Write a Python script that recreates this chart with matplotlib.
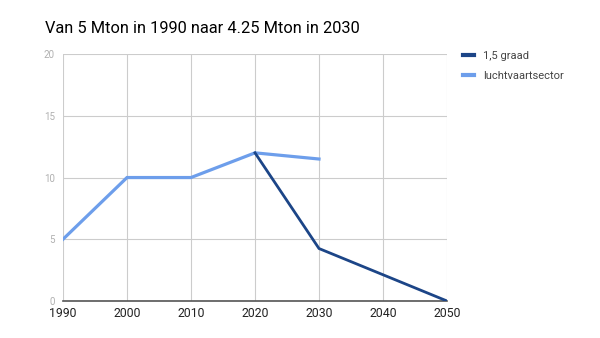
import matplotlib.pyplot as plt

plt.rcParams['font.family'] = ['Roboto', 'DejaVu Sans']

years = [1990, 2000, 2010, 2020, 2030, 2040, 2050]
graad_years = [2020, 2030, 2040, 2050]
graad_vals = [12, 4.25, 2.125, 0]
lucht_years = [1990, 2000, 2010, 2020, 2030]
lucht_vals = [5, 10, 10, 12, 11.5]
yticks = [0, 5, 10, 15, 20]

fig = plt.figure(figsize=(6, 3.38), dpi=100)
ax = fig.add_axes([0.105, 0.1095, 0.64, 0.7305])

ax.plot(graad_years, graad_vals, color='#1c4587', lw=2.0, label='1,5 graad',
        solid_joinstyle='miter', zorder=3)
ax.plot(lucht_years, lucht_vals, color='#6d9eeb', lw=2.3, label='luchtvaartsector',
        solid_joinstyle='miter', zorder=2)

ax.set_xlim(1990, 2050)
ax.set_ylim(0, 20)
ax.set_xticks(years)
ax.set_yticks(yticks)
ax.grid(True, color='#cccccc', lw=0.8)
ax.set_axisbelow(True)
for s in ['top', 'right', 'left']:
    ax.spines[s].set_visible(False)
ax.spines['bottom'].set_color('#555555')
ax.spines['bottom'].set_linewidth(1.2)
ax.tick_params(axis='both', length=0)
ax.tick_params(axis='y', labelsize=7, labelcolor='#b0b0b0', pad=6)
ax.tick_params(axis='x', labelsize=8.8, labelcolor='#222222', pad=4)

fig.text(0.075, 0.915, 'Van 5 Mton in 1990 naar 4.25 Mton in 2030',
         fontsize=11.8, color='#000000', va='center', ha='left')

leg = ax.legend(loc='upper left', bbox_to_anchor=(1.015, 1.055), frameon=False,
                fontsize=8, handlelength=1.0, handletextpad=0.8, labelspacing=0.95)
for t in leg.get_texts():
    t.set_color('#444444')
for h in leg.get_lines():
    h.set_linewidth(3)

fig.savefig('out.png', dpi=100)
